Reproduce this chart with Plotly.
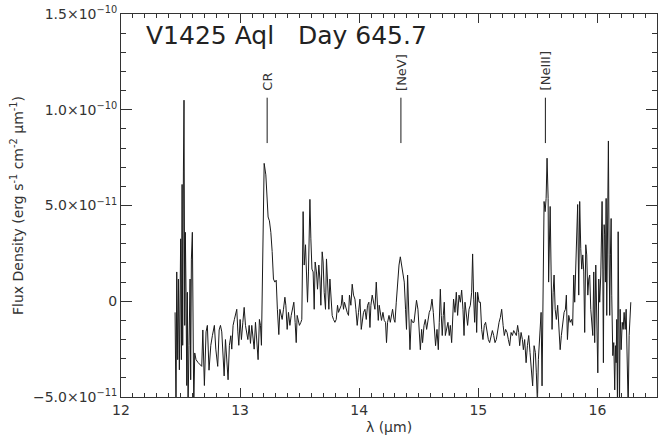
import plotly.graph_objects as go

# Wavelength (micron) and flux density (units of 1e-11 erg s^-1 cm^-2 um^-1)
wavelength_um = [
    12.454, 12.462, 12.468, 12.476, 12.482, 12.490, 12.501, 12.507, 12.513, 12.518,
    12.524, 12.529, 12.535, 12.540, 12.546, 12.552, 12.557, 12.563, 12.571, 12.580,
    12.585, 12.591, 12.599, 12.605, 12.611, 12.619, 12.630, 12.647, 12.664, 12.678,
    12.687, 12.700, 12.714, 12.725, 12.739, 12.754, 12.767, 12.784, 12.796, 12.812,
    12.824, 12.835, 12.846, 12.855, 12.866, 12.877, 12.888, 12.899, 12.910, 12.922,
    12.930, 12.941, 12.952, 12.961, 12.972, 12.981, 12.989, 13.000, 13.011, 13.023,
    13.034, 13.045, 13.053, 13.065, 13.076, 13.087, 13.098, 13.109, 13.118, 13.129,
    13.140, 13.151, 13.162, 13.171, 13.179, 13.191, 13.202,
    13.216, 13.224, 13.235, 13.246, 13.258, 13.269, 13.280, 13.292, 13.303, 13.313,
    13.325, 13.334, 13.342, 13.353, 13.364, 13.376, 13.384, 13.395, 13.406, 13.418,
    13.429, 13.439, 13.451, 13.462, 13.471, 13.479, 13.487, 13.498, 13.510, 13.518,
    13.529, 13.538, 13.549, 13.557, 13.566, 13.574, 13.586, 13.594, 13.603, 13.613,
    13.622, 13.630, 13.641, 13.650, 13.661, 13.670, 13.678, 13.689, 13.697, 13.706,
    13.717, 13.725, 13.734, 13.745, 13.754, 13.762, 13.773, 13.784, 13.796, 13.807,
    13.818, 13.826, 13.838, 13.849, 13.857, 13.868, 13.876, 13.888, 13.899, 13.910,
    13.918, 13.930, 13.941, 13.952, 13.964, 13.972, 13.983, 13.994, 14.006, 14.017,
    14.025, 14.036, 14.048, 14.059, 14.070, 14.081, 14.090, 14.098, 14.109, 14.120,
    14.132, 14.143, 14.151, 14.160, 14.168, 14.179, 14.187, 14.199, 14.210, 14.221,
    14.229, 14.238, 14.250, 14.261, 14.271, 14.280, 14.292, 14.300, 14.311, 14.322,
    14.334, 14.345, 14.355, 14.367, 14.378, 14.389, 14.397, 14.406, 14.414, 14.426,
    14.437, 14.448, 14.460, 14.471, 14.481, 14.493, 14.504, 14.513, 14.524, 14.532,
    14.544, 14.555, 14.566, 14.577, 14.588, 14.599, 14.611, 14.622, 14.633, 14.641,
    14.653, 14.664, 14.672, 14.681, 14.689, 14.697, 14.706, 14.714, 14.723, 14.734,
    14.745, 14.756, 14.765, 14.776,
    14.792, 14.804, 14.815, 14.826, 14.838, 14.849, 14.860, 14.871, 14.880, 14.888,
    14.899, 14.910, 14.922, 14.933, 14.944, 14.952, 14.961, 14.969, 14.977, 14.986,
    14.994, 15.006, 15.017, 15.028, 15.039, 15.050, 15.061, 15.073, 15.084, 15.095,
    15.107, 15.118, 15.129, 15.140, 15.151, 15.162, 15.174, 15.185, 15.196, 15.208,
    15.218, 15.229, 15.241, 15.252, 15.263, 15.275, 15.286, 15.297, 15.308, 15.319,
    15.330, 15.339, 15.347, 15.359, 15.370, 15.378, 15.389, 15.401, 15.412, 15.423,
    15.434, 15.445, 15.456, 15.468, 15.479, 15.487, 15.496, 15.504, 15.515, 15.527,
    15.535, 15.544, 15.552, 15.561, 15.569, 15.577,
    15.586, 15.590, 15.597, 15.603, 15.611, 15.619, 15.628, 15.636, 15.645, 15.655,
    15.666, 15.678, 15.687, 15.697, 15.708, 15.720, 15.731, 15.739, 15.748, 15.759,
    15.771, 15.782, 15.792, 15.801, 15.809, 15.818, 15.826, 15.834, 15.843, 15.851,
    15.860, 15.868, 15.877, 15.885, 15.893, 15.902, 15.910, 15.919, 15.927, 15.935,
    15.944, 15.952, 15.961, 15.969, 15.977, 15.986, 15.994, 16.003, 16.011, 16.019,
    16.028, 16.034, 16.039, 16.045, 16.050, 16.056, 16.061, 16.067, 16.073, 16.078,
    16.084, 16.090, 16.092, 16.098, 16.103, 16.109, 16.115, 16.120, 16.129, 16.137,
    16.145, 16.151, 16.157, 16.162, 16.168, 16.174, 16.179, 16.185, 16.191, 16.199,
    16.208, 16.216, 16.224, 16.233, 16.241, 16.246, 16.252, 16.258, 16.266, 16.271,
    16.280,
]

flux_1e11 = [
    -0.58, -6.0, 1.53, -3.05, 1.16, -3.58, 3.26, -3.05, 6.1, -2.3,
    6.8, 10.5, -1.26, 3.6, 0.47, -4.4, 0.47, -5.6, -2.3, 1.16,
    -4.1, 2.2, 3.6, -2.0, -5.6, -2.7, -3.05, -3.2, -3.3, -3.4,
    -1.5, -4.4, -1.6, -1.26, -3.6, -2.3, -1.8, -1.26, -2.5, -3.4,
    -1.5, -1.26, -1.6, -3.05, -3.9, -2.0, -3.05, -4.1, -2.3, -1.8,
    -2.5, -1.26, -0.95, -0.74, -0.42, -1.6, -2.3, -0.95, -2.0, -1.1,
    -0.32, -1.26, -1.6, -2.0, -1.26, -2.2, -1.26, -2.0, -2.5, -1.1,
    -2.0, -3.05, -0.95, -1.26, -2.3, 4.0, 7.2,
    6.6, 5.7, 4.4, 4.2, 3.6, 2.6, 1.16, 1.0, 1.1, -0.42,
    -1.74, -0.42, -0.74, -0.95, -0.42, 0.21, -0.21, -1.47, -0.58, -1.26,
    -0.74, -0.42, -0.05, -1.1, -2.16, -0.74, -0.95, -1.26, -1.1, -0.95,
    4.68, 1.89, 2.95, 1.16, -0.05, 1.53, 5.32, 3.26, 1.68, 1.53,
    -0.42, 2.05, 1.53, 0.63, 1.89, 1.16, -0.21, 2.58, 2.05, 0.47,
    -0.42, 2.21, 0.84, -0.42, 1.16, 0.32, -0.74, -0.95, -1.1, -0.95,
    -0.21, -0.58, -0.42, -0.21, 0.32, -0.42, -0.05, -0.42, -0.58, -0.74,
    0.32, -0.21, 0.89, 0.32, 0.11, -0.42, -1.26, -0.58, 0.11, -1.47,
    -1.1, -0.58, -0.42, -0.95, -0.21, -0.05, -1.37, -0.21, 0.32, -0.05,
    -0.42, 1.0, -0.42, -1.0, -0.21, -0.74, -1.0, -0.58, -1.0, -1.1,
    -2.16, -1.1, -0.74, -1.1, -0.74, -0.42, -0.95, -1.1, -0.05, 1.0,
    1.89, 2.32, 1.89, 1.37, 1.0, -0.42, -1.47, 1.37, -0.74, -2.53,
    -0.95, -1.1, -1.1, -0.42, 0.05, -0.42, -1.47, -2.53, -1.47, -2.16,
    -1.26, -0.95, -1.47, -0.95, -0.58, -0.42, 0.11, -0.58, -1.79, -2.32,
    -1.47, -2.53, -1.1, 0.63, -0.74, -1.79, -0.74, -0.05, -1.79, -1.47,
    -1.1, -1.79, -1.26, -2.16,
    0.11, -0.58, 0.47, -0.74, 0.32, -0.05, 0.58, -0.42, -1.79, -0.05,
    -0.58, -1.26, -0.42, -0.21, 0.47, 2.47, 0.11, -1.1, 0.47, -1.63,
    0.47, -0.05, -0.05, -1.47, -2.0, -1.26, -1.1, -1.63, -2.0, -2.16,
    -1.79, -1.53, -1.79, -2.16, -2.0, -1.47, -1.1, -0.84, -0.42, -1.26,
    -1.79, -1.47, -1.63, -2.0, -2.32, -1.63, -1.79, -1.53, -1.63, -1.79,
    -1.26, -1.63, -2.32, -1.63, -2.0, -2.53, -2.0, -3.21, -2.32, -1.79,
    -2.68, -3.37, -4.42, -2.32, -2.68, -3.74, -5.3, -3.05, -2.0, -0.58,
    -4.42, 1.37, 5.21, 4.68, 5.37, 7.47,
    5.37, 1.0, 3.1, 4.95, 1.53, -1.47, 0.47, 1.37, -0.42, -0.95,
    -0.21, -1.63, -2.53, -1.79, -1.26, -0.58, -0.42, 0.32, -2.0, -0.74,
    -1.1, -0.95, -1.26, 1.37, -0.05, 1.89, 3.79, 5.05, 0.32, 5.21,
    2.74, 1.68, 2.42, 1.53, -1.63, 2.95, 2.42, 0.32, 1.16, 1.37,
    -0.42, -0.95, -1.79, 1.53, -2.16, 1.89, -2.16, -3.74, 1.16, -0.05,
    1.37, 4.53, 5.21, 1.68, -3.21, 4.0, 3.47, 1.0, 5.37, -0.74,
    5.58, 7.32, 8.37, 2.42, -0.74, 2.42, 4.32, 0.32, -2.84, -2.16,
    -4.63, -2.32, -3.21, -0.95, -5.6, 3.63, -1.47, -5.6, -0.42, -2.53,
    -1.1, -1.47, -0.58, -1.47, -0.42, -3.21, -4.95, -5.6, -1.79, -0.74,
    -0.05,
]

line_labels = ["CR", "[NeV]", "[NeIII]"]
line_wavelengths = [13.227, 14.350, 15.563]
marker_bottom = 8.26e-11
marker_top = 10.63e-11
label_base = 10.9e-11

x_tick_vals = [12, 13, 14, 15, 16]
x_tick_text = ["12", "13", "14", "15", "16"]
y_tick_vals = [-5e-11, 0, 5e-11, 1e-10, 1.5e-10]
y_tick_text = ["\u22125.0\u00d710<sup>\u221211</sup>", "0",
               "5.0\u00d710<sup>\u221211</sup>", "1.0\u00d710<sup>\u221210</sup>",
               "1.5\u00d710<sup>\u221210</sup>"]

flux = [v * 1e-11 for v in flux_1e11]

FONT = "DejaVu Sans, Verdana, sans-serif"
TXT = "#333333"

fig = go.Figure()
fig.add_trace(go.Scatter(x=wavelength_um, y=flux, mode="lines",
                         line=dict(color="#1a1a1a", width=1), showlegend=False,
                         hoverinfo="skip"))

for lab, wl in zip(line_labels, line_wavelengths):
    fig.add_shape(type="line", xref="x", yref="y", x0=wl, x1=wl,
                  y0=marker_bottom, y1=marker_top,
                  line=dict(color="#1a1a1a", width=1))
    fig.add_annotation(x=wl, y=label_base, xref="x", yref="y", text=lab,
                       textangle=-90, showarrow=False, xanchor="center",
                       yanchor="bottom", font=dict(family=FONT, size=13, color=TXT))

fig.add_annotation(x=12.19, y=1.39e-10, xref="x", yref="y",
                   text="V1425 Aql\u00a0\u00a0\u00a0Day 645.7", showarrow=False,
                   xanchor="left", yanchor="middle",
                   font=dict(family=FONT, size=25, color="#222222"))

axis_common = dict(showline=True, linecolor="#333333", linewidth=1, mirror="ticks",
                   ticks="inside", tickcolor="#333333", showgrid=False, zeroline=False,
                   automargin=False, ticklabeloverflow="allow",
                   tickfont=dict(family=FONT, size=14, color=TXT))

fig.update_xaxes(range=[12, 16.5], tickvals=x_tick_vals, ticktext=x_tick_text,
                 ticklen=9, minor=dict(dtick=0.1, tick0=12, ticklen=4, ticks="inside",
                                       tickcolor="#333333", showgrid=False),
                 title=dict(text="\u03bb (\u03bcm)", font=dict(family=FONT, size=14, color=TXT),
                            standoff=5),
                 **axis_common)
fig.update_yaxes(range=[-5e-11, 1.5e-10], tickvals=y_tick_vals, ticktext=y_tick_text,
                 ticklen=11, minor=dict(dtick=1e-11, tick0=0, ticklen=5, ticks="inside",
                                        tickcolor="#333333", showgrid=False),
                 title=dict(text="Flux Density (erg s<sup>-1</sup> cm<sup>-2</sup> \u03bcm<sup>-1</sup>)",
                            font=dict(family=FONT, size=14, color=TXT), standoff=6),
                 **axis_common)

fig.update_layout(width=660, height=440, paper_bgcolor="white", plot_bgcolor="white",
                  margin=dict(l=121, r=3, t=14, b=43))

# remove the browser's default page margin so the figure sits at the window corner
fig.write_html("out.html", config={"displayModeBar": False},
               post_script="document.body.style.margin='0';")
